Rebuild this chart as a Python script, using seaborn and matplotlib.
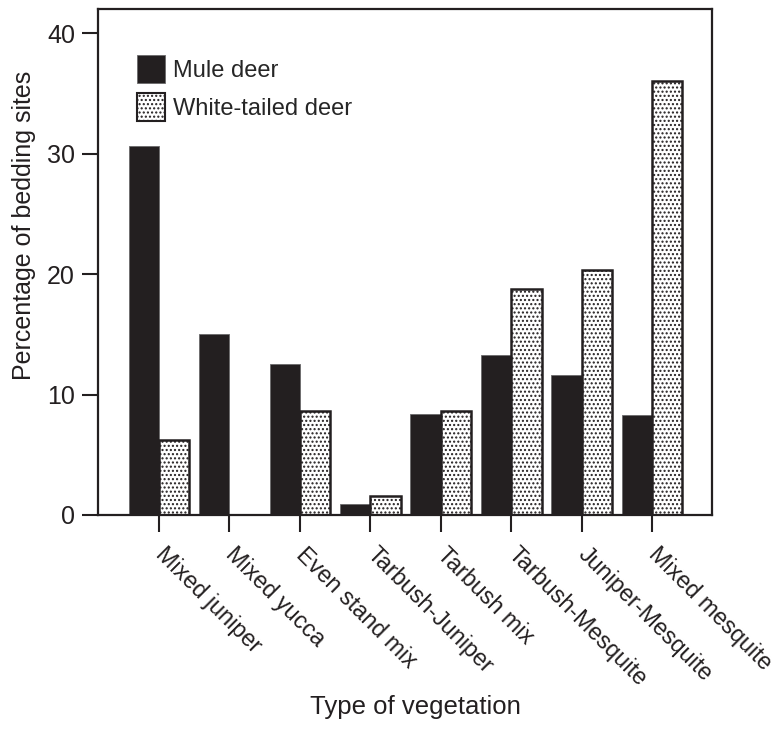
import matplotlib
matplotlib.use("Agg")
import matplotlib.pyplot as plt
from matplotlib.patches import Patch
import seaborn as sns
import pandas as pd

categories = ["Mixed juniper", "Mixed yucca", "Even stand mix", "Tarbush-Juniper",
              "Tarbush mix", "Tarbush-Mesquite", "Juniper-Mesquite", "Mixed mesquite"]
mule_deer = [30.6, 15.0, 12.5, 0.9, 8.35, 13.3, 11.65, 8.3]
white_tailed = [6.25, 0.0, 8.6, 1.6, 8.6, 18.75, 20.3, 36.0]
series_names = ["Mule deer", "White-tailed deer"]
y_ticks = [0, 10, 20, 30, 40]

sns.set_style("ticks")
plt.rcParams["font.family"] = ["Liberation Sans", "DejaVu Sans"]
plt.rcParams["hatch.linewidth"] = 1.0

DARK = "#231f20"

df = pd.DataFrame({
    "Vegetation": categories * 2,
    "Species": [series_names[0]] * len(categories) + [series_names[1]] * len(categories),
    "Percent": mule_deer + white_tailed,
})

fig = plt.figure(figsize=(7.75, 7.5), dpi=100)
ax = fig.add_axes([98 / 775, 1 - 515 / 750, (712 - 98) / 775, (515 - 9) / 750])

sns.barplot(data=df, x="Vegetation", y="Percent", hue="Species",
            palette=[DARK, "white"], saturation=1, width=0.86, ax=ax, legend=False)

for bar in ax.containers[0]:
    bar.set_facecolor(DARK)
    bar.set_edgecolor("#6a6a6a")
    bar.set_linewidth(0.6)
for bar in ax.containers[1]:
    bar.set_facecolor("white")
    bar.set_edgecolor(DARK)
    bar.set_hatch("....")
    bar.set_linewidth(1.8)

ax.set_ylim(0, 42)
ax.set_xlim(-0.866, 7.85)
ax.set_yticks(y_ticks)
ax.set_yticklabels([str(t) for t in y_ticks], fontsize=18, color=DARK)

ax.set_xticks(range(len(categories)))
ax.set_xticklabels(categories, rotation=-45, ha="left", va="center",
                   rotation_mode="anchor", fontsize=16.8, color=DARK)

for s in ax.spines.values():
    s.set_visible(True)
    s.set_linewidth(1.6)
    s.set_color(DARK)

ax.tick_params(axis="x", direction="out", length=12, width=1.5, color=DARK, pad=14)
ax.tick_params(axis="y", direction="out", length=11.5, width=1.5, color=DARK, pad=5)

ax.set_ylabel("Percentage of bedding sites", fontsize=18, color=DARK)
ax.yaxis.set_label_coords(-0.121, 0.572)
ax.set_xlabel("Type of vegetation", fontsize=18.5, color=DARK)
ax.xaxis.set_label_coords(0.517, -0.379)
ax.xaxis.label.set_va("center")
ax.yaxis.label.set_va("center")

handles = [
    Patch(facecolor=DARK, edgecolor="#6a6a6a", linewidth=0.6, label=series_names[0]),
    Patch(facecolor="white", edgecolor=DARK, hatch="....", linewidth=1.5, label=series_names[1]),
]
ax.legend(handles=handles, loc="upper left", bbox_to_anchor=(0.0635, 0.909),
          frameon=False, fontsize=17, handlelength=1.19, handleheight=1.447,
          handletextpad=0.35, labelspacing=0.42, borderpad=0, borderaxespad=0)

fig.savefig("out.png", dpi=100)
